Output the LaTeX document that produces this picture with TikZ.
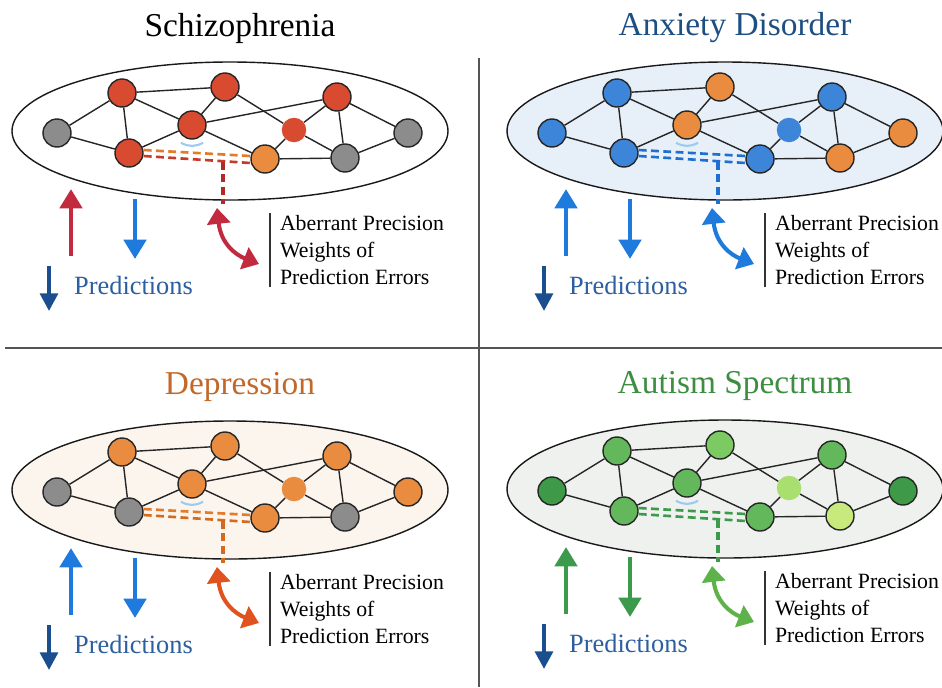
\documentclass[tikz,border=0pt]{standalone}
\usepackage{fontspec}
\setmainfont{Liberation Serif}
\usetikzlibrary{arrows.meta,calc}

\definecolor{nred}{HTML}{D84B30}
\definecolor{norange}{HTML}{EA8C3F}
\definecolor{ngray}{HTML}{8C8C8C}
\definecolor{nblue}{HTML}{3D85D8}
\definecolor{ngreen}{HTML}{63B85C}
\definecolor{ndgreen}{HTML}{3F9A48}
\definecolor{nlgreen}{HTML}{7CCB62}
\definecolor{npgreen}{HTML}{A9DF6E}
\definecolor{nygreen}{HTML}{C8EA7C}
\definecolor{bgblue}{HTML}{E7F0F9}
\definecolor{bgcream}{HTML}{FBF5EE}
\definecolor{bggray}{HTML}{EEF1EE}
\definecolor{crimson}{HTML}{C22A40}
\definecolor{skyblue}{HTML}{1E7BDD}
\definecolor{navyarr}{HTML}{1A4E8E}
\definecolor{predblue}{HTML}{2D5FA0}
\definecolor{dashorange}{HTML}{E37B2A}
\definecolor{dashred}{HTML}{C43A2B}
\definecolor{dashdark}{HTML}{B02A2A}
\definecolor{dashblue}{HTML}{1F6FD0}
\definecolor{rust}{HTML}{D46A1E}
\definecolor{vermil}{HTML}{E0521F}
\definecolor{leaf}{HTML}{3C9A4C}
\definecolor{lime}{HTML}{5DB24A}
\definecolor{ttlblue}{HTML}{1E4F82}
\definecolor{ttlorange}{HTML}{C2692A}
\definecolor{ttlgreen}{HTML}{3E8E41}
\definecolor{divgray}{HTML}{555555}
\definecolor{glintblue}{HTML}{9CCAF0}

\begin{document}
\begin{tikzpicture}[x=0.02cm, y=-0.02cm,
  netnode/.style={circle, draw=black!85, line width=0.8pt, minimum size=0.56cm, inner sep=0pt},
  softnode/.style={circle, minimum size=0.49cm, inner sep=0pt},
  netline/.style={line width=0.8pt, draw=black!85},
  blob/.style={draw=black!90, line width=0.8pt},
  link/.style={dash pattern=on 4.5pt off 2.5pt, line width=1.5pt},
  drop/.style={dash pattern=on 4.5pt off 2.5pt, line width=1.8pt},
  glint/.style={draw=glintblue, line width=1.2pt},
  bigarr/.style={line width=2.8pt, -{Triangle[width=12.5pt, length=11pt]}},
  smallarr/.style={line width=2.3pt, -{Triangle[width=10pt, length=10pt]}},
  curv/.style={line width=2.3pt, {Triangle[width=13pt, length=9pt]}-{Triangle[width=13pt, length=9pt]}},
  ttl/.style={font=\fontsize{19}{22}\selectfont},
  pred/.style={font=\fontsize{15}{18}\selectfont, text=predblue},
  abtxt/.style={font=\fontsize{12.4}{15.3}\selectfont, align=left, inner xsep=5.5pt, inner ysep=1pt},
  divider/.style={draw=divgray, line width=0.8pt}
]
  \fill[white] (0,0) rectangle (942,687);
  \useasboundingbox (0,0) rectangle (942,687);

  % panel borders
  \draw[divider] (479,58) -- (479,687);
  \draw[divider] (5,348) -- (942,348);

  % one panel per disorder
  \foreach \p/\dx/\dy/\ttext/\tc/\bg/\fills/\da/\db/\dv/\uc/\dc/\cc in {
    sz/0/0/Schizophrenia/black/white/{ngray,nred,nred,nred,nred,nred,ngray,nred,norange,ngray}/dashorange/dashred/dashdark/crimson/skyblue/crimson,
    ax/495/0/Anxiety Disorder/ttlblue/bgblue/{nblue,nblue,norange,nblue,norange,nblue,norange,nblue,nblue,norange}/dashblue/dashblue/dashblue/skyblue/skyblue/skyblue,
    dp/0/359/Depression/ttlorange/bgcream/{ngray,norange,norange,norange,norange,norange,norange,ngray,norange,ngray}/dashorange/rust/rust/skyblue/skyblue/vermil,
    au/495/358/Autism Spectrum/ttlgreen/bggray/{ndgreen,ngreen,nlgreen,ngreen,ngreen,npgreen,ndgreen,ngreen,ngreen,nygreen}/leaf/leaf/leaf/leaf/leaf/lime}{
  \begin{scope}[shift={(\dx,\dy)}]
    \node[ttl, text=\tc] (\p-ttl) at (240,28) {\ttext};
    \draw[blob, fill=\bg] (230,131) ellipse [x radius=218, y radius=69];
    \foreach \px/\py [count=\i] in {57/133,122/93,225/87,337/97,192/125,294/130,408/133,129/153,265/159,345/158}
      \coordinate (pos\i) at (\px,\py);
    \foreach \c [count=\i] in \fills {
      \ifnum\i=6 \node[softnode, fill=\c] (\p\i) at (pos\i) {};
      \else \node[netnode, fill=\c] (\p\i) at (pos\i) {}; \fi
    }
    \foreach \a/\b in {1/2,1/8,2/3,2/8,2/5,3/5,3/6,5/4,5/8,5/9,6/4,6/9,6/10,4/10,4/7,10/9,10/7}
      \draw[netline] (\p\a) -- (\p\b);
    \draw[glint] ($(\p5.south)+(-11,3)$) to[bend right=30] ($(\p5.south)+(11,3)$);

    % dashed error links
    \draw[link, draw=\da] ($(\p8.east)+(0,-3)$) -- ($(\p9.west)+(0,-3)$);
    \draw[link, draw=\db] ($(\p8.east)+(0,3)$) -- ($(\p9.west)+(0,4)$);
    \coordinate (\p-d1) at (223,162);
    \coordinate (\p-d2) at (223,204);
    \draw[drop, draw=\dv] (\p-d1) -- (\p-d2);

    % arrows
    \coordinate (\p-u1) at (71,256);
    \coordinate (\p-u2) at (71,189);
    \draw[bigarr, color=\uc] (\p-u1) -- (\p-u2);
    \coordinate (\p-v1) at (135,199);
    \coordinate (\p-v2) at (135,259);
    \draw[bigarr, color=\dc] (\p-v1) -- (\p-v2);
    \coordinate (\p-w1) at (49,266);
    \coordinate (\p-w2) at (49,311);
    \draw[smallarr, color=navyarr] (\p-w1) -- (\p-w2);
    \node[pred, anchor=west] (\p-pred) at (68,285) {Predictions};
    \coordinate (\p-c1) at (217,208);
    \coordinate (\p-c2) at (259,264);
    \draw[curv, color=\cc] (\p-c1) .. controls (221,244) and (236,255) .. (\p-c2);
    \node[abtxt, anchor=west] (\p-ab) at (270,250) {Aberrant Precision\\Weights of\\Prediction Errors};
    \draw[line width=0.6pt, draw=black!80] (\p-ab.north west) -- (\p-ab.south west);
  \end{scope}
  }
\end{tikzpicture}
\end{document}
